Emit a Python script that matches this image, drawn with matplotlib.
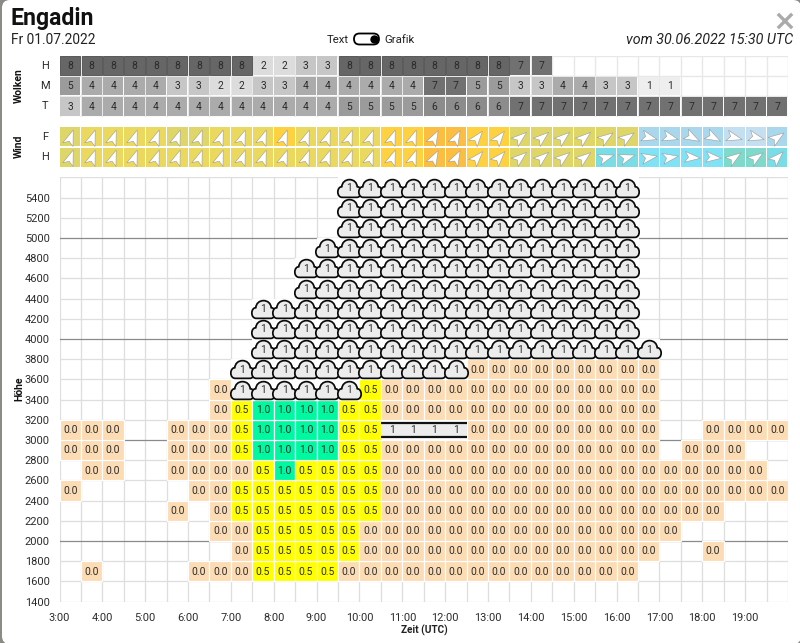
import matplotlib
matplotlib.use('Agg')
import matplotlib.pyplot as plt
from matplotlib.markers import MarkerStyle
from matplotlib.patches import FancyBboxPatch
from matplotlib.path import Path
from matplotlib.transforms import Affine2D

plt.rcParams['font.family'] = ['Roboto', 'DejaVu Sans']

W, H = 800, 643

# half hour columns starting at 3:00
n_cols = 34
hour_ticks = list(range(3, 20))
height_ticks = list(range(1400, 5600, 200))

# cloud cover per column, 0 means nothing reported
clouds_h = [8, 8, 8, 8, 8, 8, 8, 8, 8, 2, 2, 3, 3, 8, 8, 8, 8, 8, 8, 8, 8, 7, 7,
            0, 0, 0, 0, 0, 0, 0, 0, 0, 0, 0]
clouds_m = [5, 4, 4, 4, 4, 3, 3, 2, 2, 3, 3, 4, 4, 4, 4, 4, 4, 7, 7, 5, 5, 3, 3,
            4, 4, 3, 3, 1, 1, 0, 0, 0, 0, 0]
clouds_t = [3, 4, 4, 4, 4, 4, 4, 4, 4, 4, 4, 4, 4, 5, 5, 5, 5, 6, 6, 6, 6, 7, 7,
            7, 7, 7, 7, 7, 7, 7, 7, 7, 7, 7]
cloud_greys = {1: '#eeeeee', 2: '#dcdcdc', 3: '#c6c6c6', 4: '#ababab',
               5: '#9b9b9b', 6: '#8c8c8c', 7: '#717171', 8: '#666666'}

# wind heading in degrees clockwise from north
wind_f_deg = [20, 20, 20, 20, 20, 20, 20, 20, 20, 20, 20, 20, 20, 20, 20, 20, 20,
              28, 28, 38, 38, 50, 50, 50, 50, 55, 55, 105, 105, 118, 118, 105, 105, 55]
wind_h_deg = [20, 20, 20, 20, 20, 20, 20, 20, 20, 20, 20, 20, 20, 20, 20, 20, 20,
              28, 28, 42, 42, 50, 50, 52, 52, 72, 72, 80, 80, 95, 95, 55, 55, 45]
wind_f_class = 'gyyyyggyyy' + 'oyyyyooddo' + 'oggggggbbb' + 'bllb'
wind_h_class = 'gyyyyyyyyy' + 'yyyyyooddo' + 'oggggttccc' + 'cmmt'
wind_colors = {'g': '#dfd66a', 'y': '#ebd95f', 'o': '#fed140', 'd': '#fbbe42',
               'b': '#a9d8ec', 'l': '#c4dfef', 't': '#7adde6', 'c': '#80e2f4',
               'm': '#7fdacb'}

# thermik rows, bottom row first. a=0.0 b=0.5 c=1.0 k=cloud l=cloud layer
row_heights = [1600, 1800, 2000, 2200, 2400, 2600, 2800, 3000, 3200, 3400,
               3600, 3800, 4000, 4200, 4400, 4600, 4800, 5000, 5200, 5400]
rows = [
    '.a....aaab' + 'bbbaaaaaaa' + 'aaaaaaa...' + '....',
    '........ab' + 'bbbbaaaaaa' + 'aaaaaaaa..' + 'a...',
    '.......aab' + 'bbbbaaaaaa' + 'aaaaaaaaa.' + '....',
    '.....a.abb' + 'bbbbbaaaaa' + 'aaaaaaaaaa' + 'a...',
    'a.....aabb' + 'bbbbbaaaaa' + 'aaaaaaaaaa' + 'aaaa',
    '.aa..aaaab' + 'cbbbbaaaaa' + 'aaaaaaaaaa' + 'aaa.',
    'aaa..aaabc' + 'cccbbaaaaa' + 'aaaaaaaa.a' + 'aa..',
    'aaa..aaabc' + 'cccbblllla' + 'aaaaaaaa..' + 'aaaa',
    '.......abc' + 'cccbbaaaaa' + 'aaaaaaaa..' + '....',
    '.......akk' + 'kkkkbaaaaa' + 'aaaaaaaa..' + '....',
    '........kk' + 'kkkkkkkkka' + 'aaaaaaaa..' + '....',
    '.........k' + 'kkkkkkkkkk' + 'kkkkkkkk..' + '....',
    '.........k' + 'kkkkkkkkkk' + 'kkkkkkk...' + '....',
    '.........k' + 'kkkkkkkkkk' + 'kkkkkkk...' + '....',
    '..........' + '.kkkkkkkkk' + 'kkkkkkk...' + '....',
    '..........' + '.kkkkkkkkk' + 'kkkkkkk...' + '....',
    '..........' + '..kkkkkkkk' + 'kkkkkkk...' + '....',
    '..........' + '...kkkkkkk' + 'kkkkkkk...' + '....',
    '..........' + '...kkkkkkk' + 'kkkkkkk...' + '....',
    '..........' + '...kkkkkkk' + 'kkkkkkk...' + '....',
]
cell_colors = {'a': '#fcdcb4', 'b': '#ffff00', 'c': '#00f9a0', 'k': 'white', 'l': '#ececec'}
cell_labels = {'a': '0.0', 'b': '0.5', 'c': '1.0'}

TXT = '#2b2b2b'


def axes_px(fig, left, top, right, bottom):
    return fig.add_axes([left / W, 1 - bottom / H, (right - left) / W, (bottom - top) / H])


def cloud_path():
    verts = [(-0.62, -0.76), (0.62, -0.76),
             (0.86, -0.76), (1.0, -0.56), (1.0, -0.3),
             (1.0, -0.04), (0.84, 0.18), (0.66, 0.14),
             (0.64, 0.52), (0.36, 0.76), (0.0, 0.76),
             (-0.36, 0.76), (-0.64, 0.52), (-0.66, 0.14),
             (-0.84, 0.18), (-1.0, -0.04), (-1.0, -0.3),
             (-1.0, -0.56), (-0.86, -0.76), (-0.62, -0.76)]
    codes = [Path.MOVETO, Path.LINETO] + [Path.CURVE4] * 18
    return Path(verts, codes)


arrow_shape = Path([(0, 1), (0.68, -0.95), (0, -0.5), (-0.68, -0.95), (0, 1)],
                   [Path.MOVETO, Path.LINETO, Path.LINETO, Path.LINETO, Path.CLOSEPOLY])


def base_grid(ax, ymin, ymax):
    ax.set_xlim(3, 20)
    ax.set_ylim(ymin, ymax)
    for sp in ax.spines.values():
        sp.set_visible(False)
    ax.set_xticks([])
    ax.set_yticks([])
    ax.patch.set_alpha(0)


fig = plt.figure(figsize=(W / 100, H / 100), dpi=100, facecolor='#8b8b86')

# modal background and header, in pixel coordinates
bg = fig.add_axes([0, 0, 1, 1], zorder=-1)
bg.set_xlim(0, W)
bg.set_ylim(H, 0)
bg.axis('off')
bg.add_patch(FancyBboxPatch((9, 7), 785, 630, boxstyle='round,pad=7,rounding_size=8',
                            fc='white', ec='none'))
bg.text(11, 25.5, 'Engadin', fontsize=16.6, fontweight='bold', color='#111111', va='baseline')
bg.text(11, 44, 'Fr 01.07.2022', fontsize=9.9, color='#222222', va='baseline')
bg.text(327, 43, 'Text', fontsize=8.2, color='#222222', va='baseline')
bg.text(384, 43, 'Grafik', fontsize=8.2, color='#222222', va='baseline')
bg.text(793, 44, 'vom 30.06.2022 15:30 UTC', fontsize=10.3, fontstyle='italic', color='#222222',
        ha='right', va='baseline')
bg.add_patch(FancyBboxPatch((359, 38.5), 15, 1, boxstyle='round,pad=5,rounding_size=5.5',
                            fc='white', ec='black', lw=1.3))
bg.plot([374], [39], 'o', ms=5, color='black')
bg.plot([779, 791], [15, 27], color='#aaaaaa', lw=2.4)
bg.plot([779, 791], [27, 15], color='#aaaaaa', lw=2.4)
bg.text(19, 86, 'Wolken', fontsize=7.5, fontweight='bold', rotation=90, ha='center', va='center', color='#111111')
bg.text(19, 146, 'Wind', fontsize=7.5, fontweight='bold', rotation=90, ha='center', va='center', color='#111111')
bg.text(19, 389, 'Höhe', fontsize=7.5, fontweight='bold', rotation=90, ha='center', va='center', color='#111111')
bg.text(424, 630, 'Zeit (UTC)', fontsize=7.2, fontweight='bold', ha='center', va='center', color='#222222')

# clouds
ax_c = axes_px(fig, 59.5, 55.5, 788, 116.5)
base_grid(ax_c, 0, 3)
for k in range(n_cols + 1):
    ax_c.axvline(3 + k * 0.5, color='#e8e8e8', lw=1, zorder=1)
for k in range(0, 4):
    ax_c.axhline(k, color='#e8e8e8', lw=1, zorder=1)
for r, (name, vals) in enumerate([('T', clouds_t), ('M', clouds_m), ('H', clouds_h)]):
    ax_c.text(-0.0195, r + 0.5, name, transform=ax_c.get_yaxis_transform(), fontsize=8, color=TXT,
              ha='center', va='center')
    for i, v in enumerate(vals):
        if v == 0:
            continue
        x = 3 + i * 0.5
        ec = '#4d4d4d' if v == 8 else 'none'
        ax_c.bar(x + 0.015, 0.93, width=0.47, bottom=r + 0.035, align='edge',
                 color=cloud_greys[v], edgecolor=ec, linewidth=0.6, zorder=2)
        ax_c.text(x + 0.25, r + 0.48, str(v), fontsize=7.4, color=TXT, ha='center', va='center', zorder=3)

# wind
ax_w = axes_px(fig, 59.5, 126.5, 788, 167.5)
base_grid(ax_w, 0, 2)
for r, (name, deg, cls) in enumerate([('H', wind_h_deg, wind_h_class), ('F', wind_f_deg, wind_f_class)]):
    ax_w.text(-0.0195, r + 0.5, name, transform=ax_w.get_yaxis_transform(), fontsize=8, color=TXT,
              ha='center', va='center')
    for i in range(n_cols):
        x = 3 + i * 0.5
        ax_w.bar(x + 0.012, 0.95, width=0.476, bottom=r + 0.025, align='edge',
                 color=wind_colors[cls[i]], zorder=2)
        marker = MarkerStyle(arrow_shape, transform=Affine2D().rotate_deg(-deg[i]))
        ax_w.plot([x + 0.25], [r + 0.5], marker=marker, ms=11.5, mfc='white', mec='#9a9a9a',
                  mew=0.4, ls='none', zorder=3)

# thermik
ax = axes_px(fig, 59.5, 177.4, 788, 601.7)
ax.set_xlim(3, 20)
ax.set_ylim(1400, 5600)
for sp in ax.spines.values():
    sp.set_visible(False)
ax.set_xticks(hour_ticks)
ax.set_xticklabels(['%d:00' % h for h in hour_ticks])
ax.set_yticks(height_ticks)
ax.tick_params(length=0, labelsize=7.9, labelcolor=TXT, pad=4)
ax.tick_params(axis='y', pad=7)
ax.tick_params(axis='x', pad=8)
for k in range(n_cols + 1):
    ax.axvline(3 + k * 0.5, color='#dedede', lw=0.9, zorder=1)
for h in range(1400, 5800, 200):
    major = h in (2000, 3000, 4000, 5000)
    ax.axhline(h, color='#8a8a8a' if major else '#dedede', lw=0.9, zorder=1.5 if major else 1)

cloud_x = []
cloud_y = []
for h, row in zip(row_heights, rows):
    for i, c in enumerate(row):
        x = 3 + i * 0.5
        if c == '.':
            continue
        if c == 'l':
            # layer: white cell with a grey band between two black lines
            ax.bar(x, 200, width=0.5, bottom=h, align='edge', color='white', zorder=2)
            ax.bar(x, 130, width=0.5, bottom=h + 35, align='edge', color=cell_colors[c], zorder=2.1)
            ax.plot([x, x + 0.5], [h + 165, h + 165], color='#111111', lw=1.6, solid_capstyle='butt', zorder=3)
            ax.plot([x, x + 0.5], [h + 35, h + 35], color='#111111', lw=1.6, solid_capstyle='butt', zorder=3)
            ax.text(x + 0.25, h + 97, '1', fontsize=7.3, color=TXT, ha='center', va='center', zorder=5)
            continue
        ax.bar(x, 200, width=0.5, bottom=h, align='edge', color=cell_colors[c],
               edgecolor='white', linewidth=0.85, zorder=2)
        if c == 'k':
            cloud_x.append(x + 0.25)
            cloud_y.append(h + 100)
        else:
            ax.text(x + 0.25, h + 97, cell_labels[c], fontsize=7.4, color=TXT, ha='center', va='center', zorder=5)

ax.plot(cloud_x, cloud_y, ls='none', marker=MarkerStyle(cloud_path()), ms=16.8,
        mfc='#ececec', mec='#0a0a0a', mew=1.25, zorder=4)
for x, y in zip(cloud_x, cloud_y):
    ax.text(x, y - 5, '1', fontsize=7.3, color=TXT, ha='center', va='center', zorder=5)

fig.savefig('out.png', dpi=100, facecolor=fig.get_facecolor())
